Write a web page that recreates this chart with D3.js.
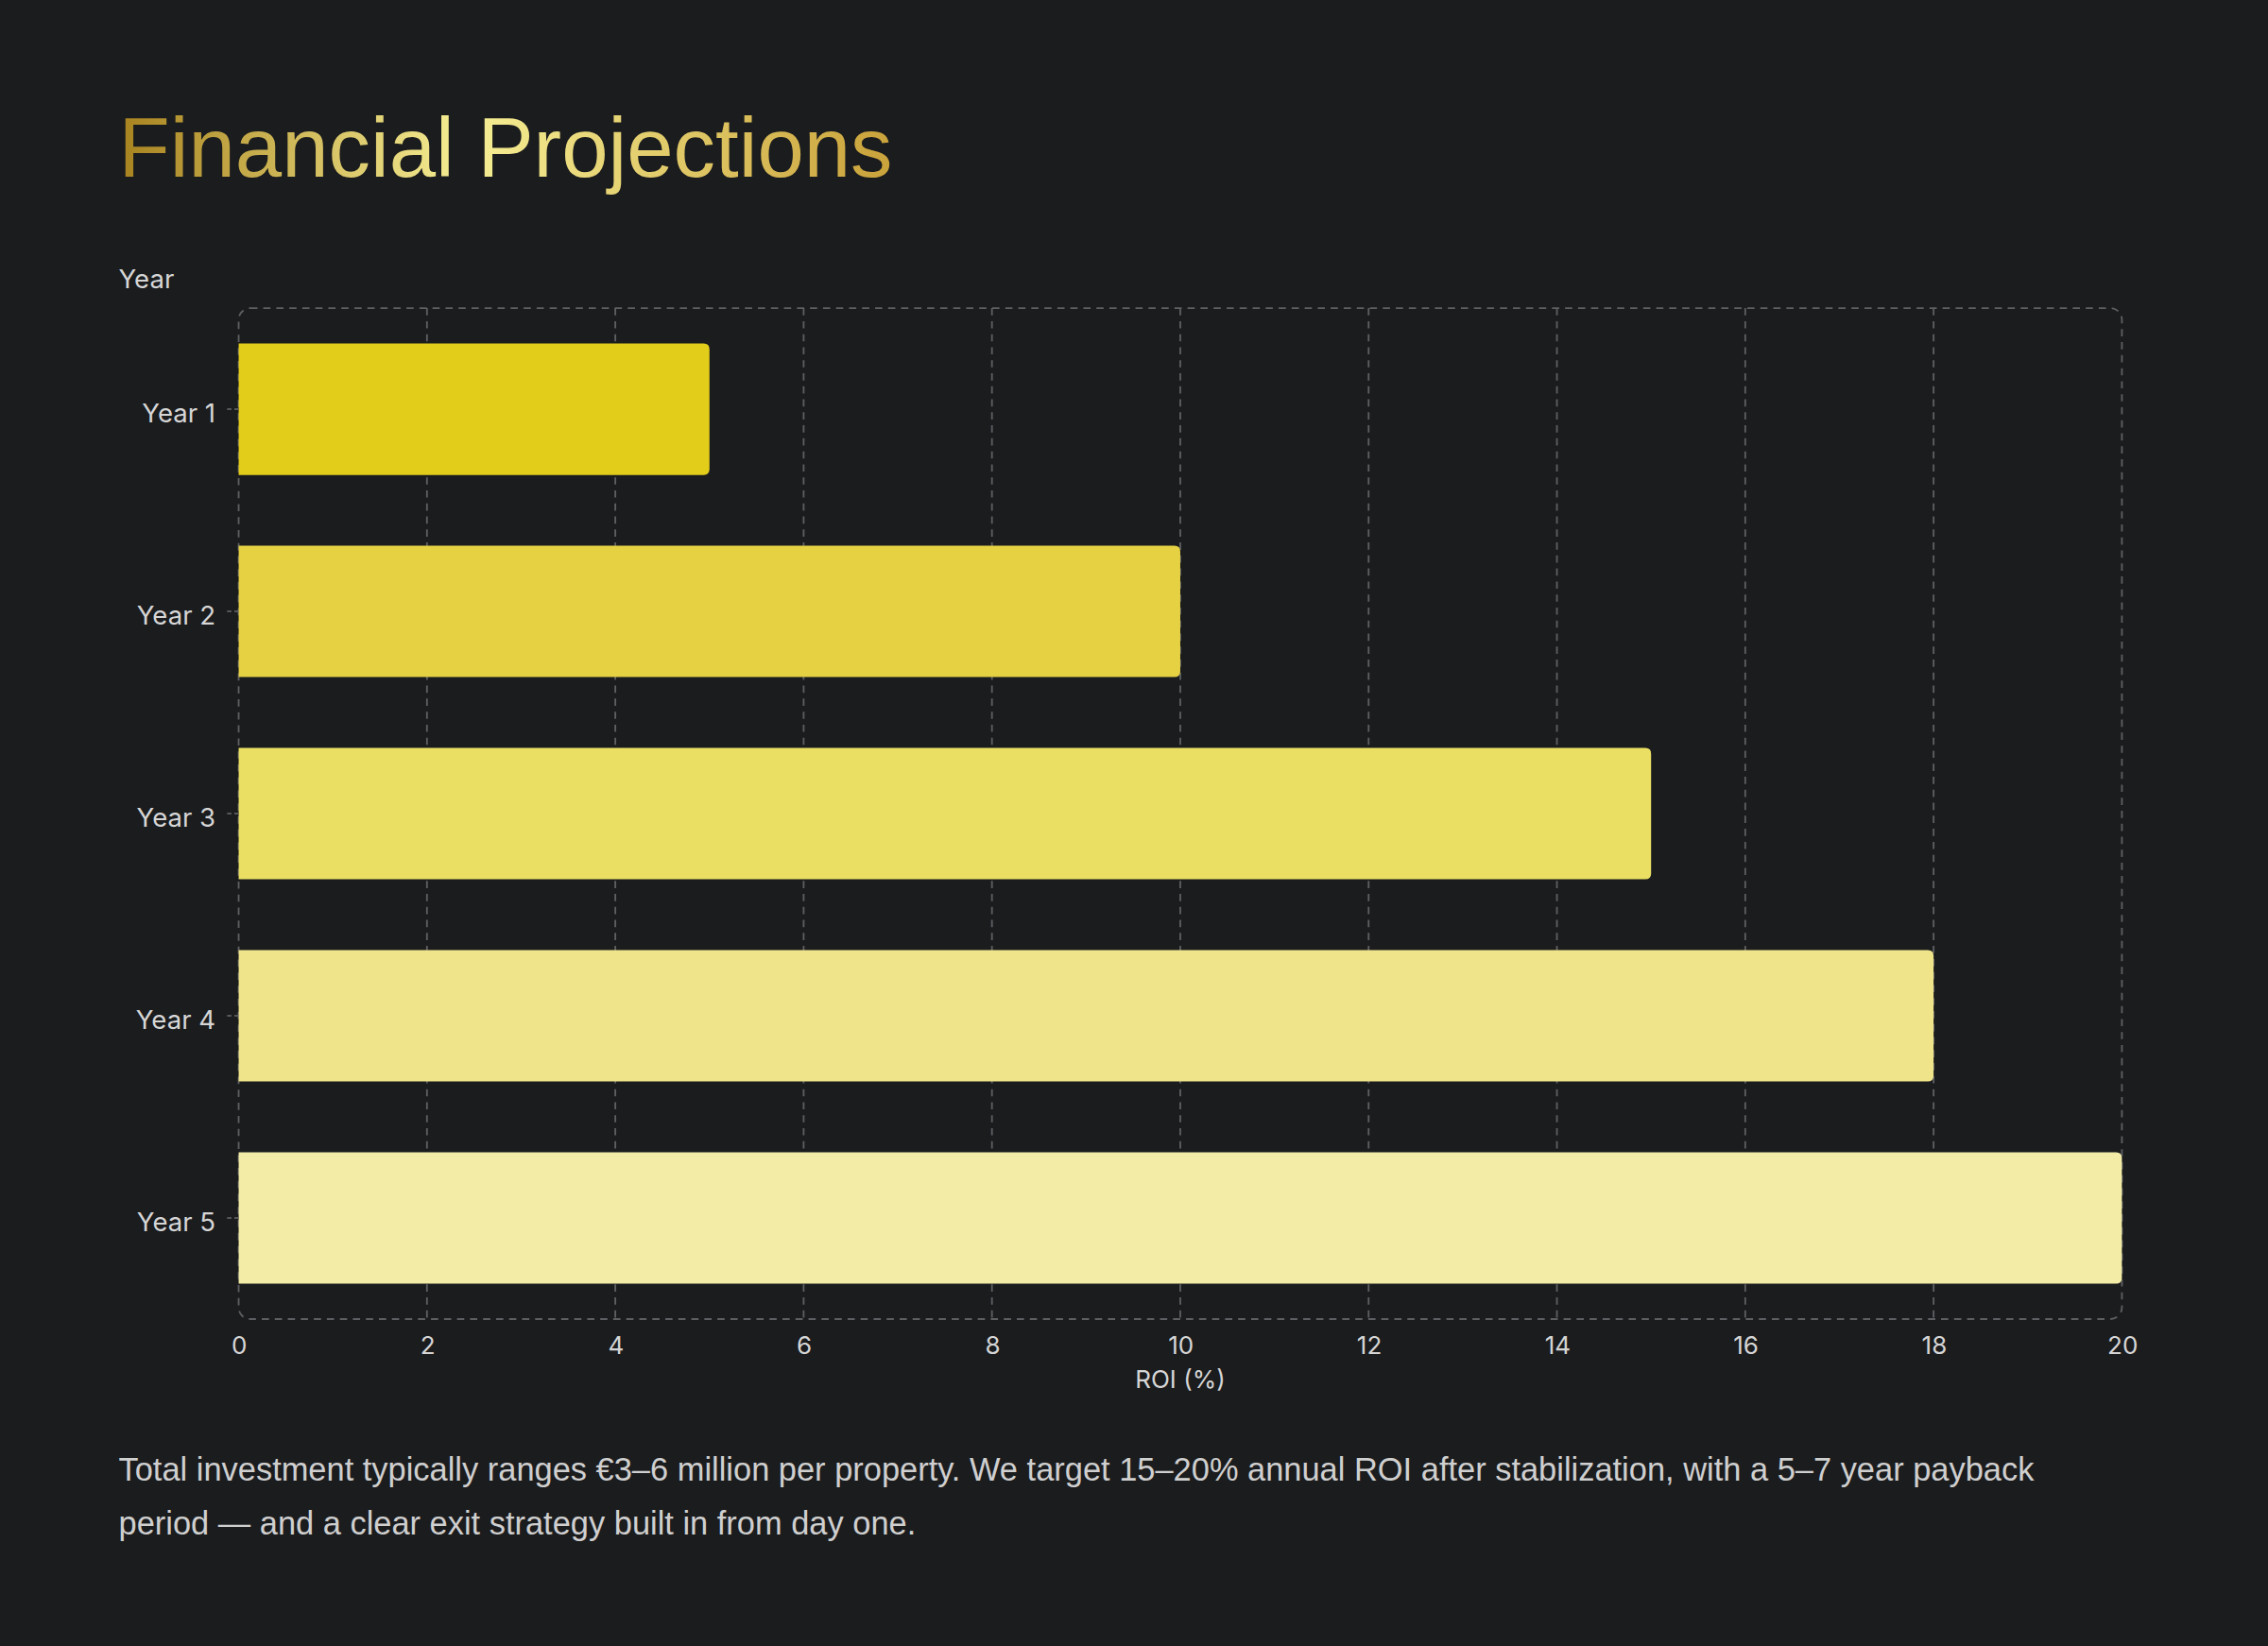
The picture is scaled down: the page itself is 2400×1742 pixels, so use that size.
<!DOCTYPE html>
<html>
<head>
<meta charset="utf-8">
<script src="https://cdn.jsdelivr.net/npm/d3@7"></script>
<style>
  html, body { margin: 0; padding: 0; background: #1b1c1e; }
  svg { display: block; }
</style>
</head>
<body>
<div id="chart"></div>
<script>
'use strict';

var years = ['Year 1', 'Year 2', 'Year 3', 'Year 4', 'Year 5'];
var roi = [5, 10, 15, 18, 20];
var barColors = ['#e2cd1b', '#e6d142', '#eadf63', '#f0e48a', '#f2eca6'];
var xTicks = [0, 2, 4, 6, 8, 10, 12, 14, 16, 18, 20];

var W = 1568, H = 1138;
var plot = { left: 165, right: 1467, top: 213, bottom: 912 };

var svg = d3.select('#chart').append('svg')
    .attr('width', 2400).attr('height', 1742)
    .attr('viewBox', '0 0 ' + W + ' ' + H);

svg.append('rect').attr('width', W).attr('height', H).attr('fill', '#1b1c1e');

var defs = svg.append('defs');
var grad = defs.append('linearGradient').attr('id', 'titleGrad')
    .attr('x1', '0%').attr('x2', '100%').attr('y1', '0%').attr('y2', '0%');
grad.append('stop').attr('offset', '0%').attr('stop-color', '#a8831f');
grad.append('stop').attr('offset', '45%').attr('stop-color', '#f6ee94');
grad.append('stop').attr('offset', '100%').attr('stop-color', '#c9a23a');

svg.append('text')
    .attr('x', 82).attr('y', 122)
    .attr('font-family', 'Liberation Sans, Arial, sans-serif')
    .attr('font-size', 58)
    .attr('fill', 'url(#titleGrad)')
    .text('Financial Projections');

var x = d3.scaleLinear().domain([0, 20]).range([plot.left, plot.right]);
var y = d3.scaleBand().domain(years).range([plot.top, plot.bottom]).paddingInner(0.35).paddingOuter(0.175);

var font = 'Inter, Roboto, sans-serif';

// grid
svg.append('g').selectAll('line').data(xTicks.slice(1, -1)).enter().append('line')
    .attr('x1', function(d) { return x(d); }).attr('x2', function(d) { return x(d); })
    .attr('y1', plot.top).attr('y2', plot.bottom)
    .attr('stroke', '#5e5f62').attr('stroke-width', 1.2).attr('stroke-dasharray', '5,4');

svg.append('rect')
    .attr('x', plot.left).attr('y', plot.top)
    .attr('width', plot.right - plot.left).attr('height', plot.bottom - plot.top)
    .attr('rx', 8).attr('fill', 'none')
    .attr('stroke', '#5e5f62').attr('stroke-width', 1.2).attr('stroke-dasharray', '5,4');

// bars
svg.append('g').selectAll('path').data(roi).enter().append('path')
    .attr('fill', function(d, i) { return barColors[i]; })
    .attr('d', function(d, i) {
        var x0 = x(0), x1 = x(d), y0 = y(years[i]), h = y.bandwidth(), r = 4;
        return 'M' + x0 + ',' + y0 + 'H' + (x1 - r) + 'Q' + x1 + ',' + y0 + ' ' + x1 + ',' + (y0 + r) +
            'V' + (y0 + h - r) + 'Q' + x1 + ',' + (y0 + h) + ' ' + (x1 - r) + ',' + (y0 + h) +
            'H' + x0 + 'Z';
    });

// y axis
var yAxis = svg.append('g').attr('transform', 'translate(' + plot.left + ',0)')
    .call(d3.axisLeft(y).tickSize(10).tickPadding(6));
yAxis.select('.domain').remove();
yAxis.selectAll('line').attr('stroke', '#6a6b6e').attr('stroke-dasharray', '3,2');
yAxis.selectAll('text').attr('fill', '#d6d6d6').attr('font-family', font).attr('font-size', 18).attr('dy', '0.5em');

// x axis
var xAxis = svg.append('g').attr('transform', 'translate(0,' + plot.bottom + ')')
    .call(d3.axisBottom(x).tickValues(xTicks).tickSize(0).tickPadding(12));
xAxis.select('.domain').remove();
xAxis.selectAll('text').attr('fill', '#d6d6d6').attr('font-family', font).attr('font-size', 17);

svg.append('text').attr('x', 82).attr('y', 199)
    .attr('fill', '#d6d6d6').attr('font-family', font).attr('font-size', 18).text('Year');

svg.append('text').attr('x', x(10)).attr('y', 960).attr('text-anchor', 'middle')
    .attr('fill', '#d6d6d6').attr('font-family', font).attr('font-size', 17).text('ROI (%)');

var para = ['Total investment typically ranges €3–6 million per property. We target 15–20% annual ROI after stabilization, with a 5–7 year payback',
    'period — and a clear exit strategy built in from day one.'];
svg.append('g').selectAll('text').data(para).enter().append('text')
    .attr('x', 82).attr('y', function(d, i) { return 1024 + i * 37; })
    .attr('fill', '#cfcfcf').attr('font-family', 'Liberation Sans, Arial, sans-serif')
    .attr('font-size', 22.5).text(function(d) { return d; });
</script>
</body>
</html>
